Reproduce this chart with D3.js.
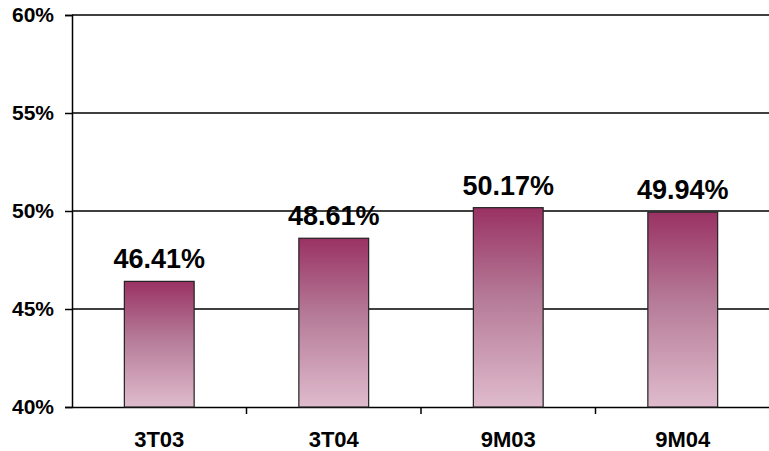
<!DOCTYPE html>
<html>
<head>
<meta charset="utf-8">
<script src="https://cdn.jsdelivr.net/npm/d3@7"></script>
<style>
  body { margin: 0; background: #fff; }
  text { font-family: "Liberation Sans", Arial, sans-serif; font-weight: bold; fill: #000; }
</style>
</head>
<body>
<svg id="chart" width="769" height="451"></svg>
<script>
// данные
var categories = ['3T03', '3T04', '9M03', '9M04']
var values = [46.41, 48.61, 50.17, 49.94]
var yTicks = [40, 45, 50, 55, 60]

var svg = d3.select('#chart'),
    plotLeft = 72,
    plotRight = 770,
    plotTop = 15,
    plotBottom = 407

var x = d3.scaleBand().domain(categories).range([plotLeft, plotRight])
var y = d3.scaleLinear().domain([40, 60]).range([plotBottom, plotTop])

// градиент для баров
var grad = svg.append('defs').append('linearGradient')
    .attr('id', 'barGrad')
    .attr('x1', 0).attr('y1', 0).attr('x2', 0).attr('y2', 1)
grad.append('stop').attr('offset', '0%').attr('stop-color', '#9a3264')
grad.append('stop').attr('offset', '45%').attr('stop-color', '#b57a97')
grad.append('stop').attr('offset', '100%').attr('stop-color', '#dfbbcd')

// сетка
svg.append('g')
    .selectAll('line')
    .data(yTicks.filter(d => d !== 40))
    .enter()
    .append('line')
    .attr('x1', plotLeft).attr('x2', plotRight)
    .attr('y1', d => y(d)).attr('y2', d => y(d))
    .style('stroke', '#000')
    .style('stroke-width', 1.5)

// ось Y
var yAxis = svg.append('g')
    .attr('transform', 'translate(' + plotLeft + ',0)')
    .call(d3.axisLeft(y).tickValues(yTicks).tickSize(7).tickPadding(11).tickFormat(d => d + '%'))
yAxis.select('.domain').attr('stroke', '#000').attr('stroke-width', 1.5)
yAxis.selectAll('.tick line').attr('stroke', '#000').attr('stroke-width', 1.5)
yAxis.selectAll('.tick text').style('font-size', '21px').attr('fill', '#000')
    .style('font-family', '"Liberation Sans", Arial, sans-serif').style('font-weight', 'bold')

// ось X
var xAxis = svg.append('g')
    .attr('transform', 'translate(0,' + plotBottom + ')')
    .call(d3.axisBottom(x).tickSize(0).tickPadding(24))
xAxis.select('.domain').attr('stroke', '#000').attr('stroke-width', 1.5)
xAxis.selectAll('.tick text').style('font-size', '22px').attr('fill', '#000')
    .style('font-family', '"Liberation Sans", Arial, sans-serif').style('font-weight', 'bold')

// засечки между категориями
svg.append('g')
    .selectAll('line')
    .data(categories.slice(1))
    .enter()
    .append('line')
    .attr('x1', d => x(d)).attr('x2', d => x(d))
    .attr('y1', plotBottom).attr('y2', plotBottom + 7)
    .style('stroke', '#000')
    .style('stroke-width', 1.5)

// бары
var barW = x.bandwidth() * 0.4
var bar = svg.append('g')
    .selectAll('g')
    .data(values)
    .enter()
    .append('g')

bar.append('rect')
    .attr('x', (d, i) => x(categories[i]) + (x.bandwidth() - barW) / 2)
    .attr('y', d => y(d))
    .attr('width', barW)
    .attr('height', d => plotBottom - y(d))
    .attr('fill', 'url(#barGrad)')
    .style('stroke', '#222')
    .style('stroke-width', 1.2)

bar.append('text')
    .attr('x', (d, i) => x(categories[i]) + x.bandwidth() / 2)
    .attr('y', d => y(d) - 13)
    .attr('text-anchor', 'middle')
    .style('font-size', '27px')
    .text(d => d.toFixed(2) + '%')
</script>
</body>
</html>
